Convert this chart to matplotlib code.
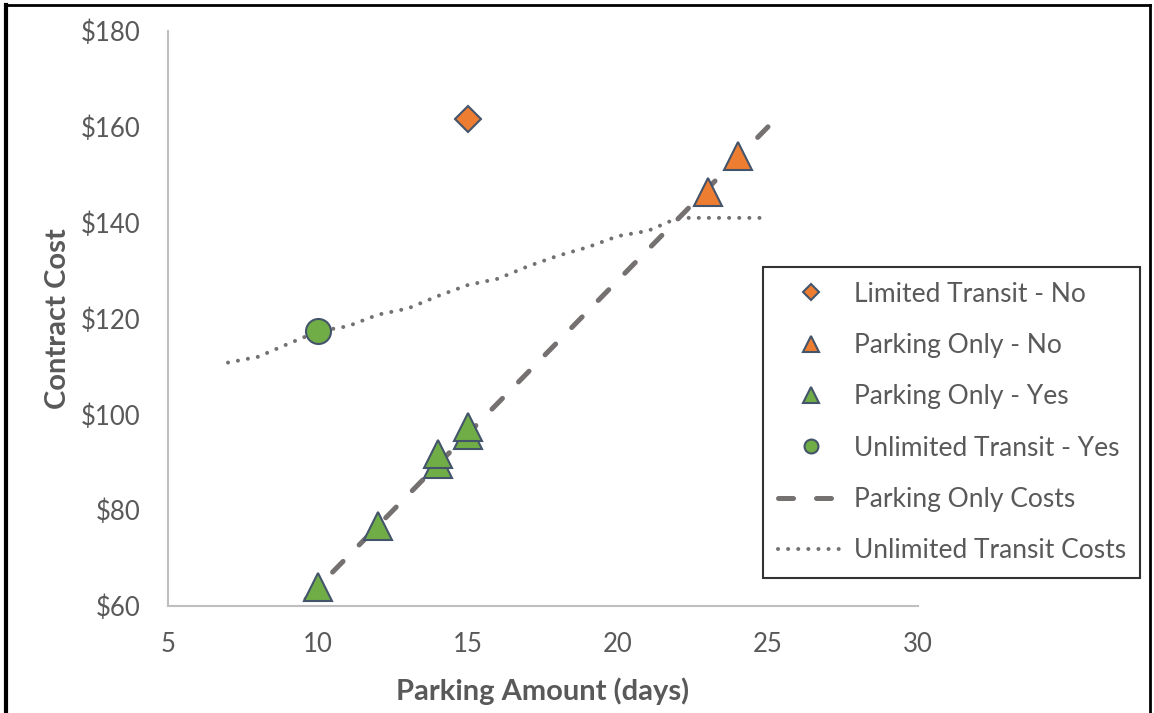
import matplotlib
matplotlib.use("Agg")
import matplotlib.pyplot as plt
from matplotlib.lines import Line2D

# ---- data ----
limited_no_days = [15]
limited_no_cost = [161.6]

parking_no_days = [23, 24]
parking_no_cost = [146.5, 154.0]

parking_yes_days = [10, 12, 14, 14, 15, 15]
parking_yes_cost = [64.0, 76.7, 89.6, 91.8, 95.6, 97.4]

unlimited_yes_days = [10]
unlimited_yes_cost = [117.3]

parking_cost_days = [9.6, 25.0]
parking_cost_values = [61.4, 160.0]

unlimited_cost_days = [7, 8, 9, 10, 11, 12, 13, 14, 15, 16, 17, 18, 19, 20, 21, 22, 23, 24, 25]
unlimited_cost_values = [110.8, 112.0, 114.7, 117.3, 118.4, 120.8, 122.1, 124.7, 127.0, 128.3,
                         130.9, 133.1, 134.9, 137.2, 138.3, 141.0, 141.0, 141.0, 141.0]

x_ticks = [5, 10, 15, 20, 25, 30]
y_ticks = [60, 80, 100, 120, 140, 160, 180]

# ---- style ----
FONT = "Lato"
plt.rcParams["font.family"] = [FONT, "DejaVu Sans"]
ORANGE = "#ED7D31"
GREEN = "#70AD47"
EDGE = "#44546A"
LINE_GRAY = "#767171"
TEXT_GRAY = "#595959"
AXIS_GRAY = "#BFBFBF"

DOT_STYLE = dict(color=LINE_GRAY, lw=2.9, linestyle=(0, (0.01, 2.5)), dash_capstyle="round")
DASH_STYLE = dict(color=LINE_GRAY, lw=3.6, linestyle=(0, (3.0, 4.6)), dash_capstyle="round")

W, H = 1154, 713
fig = plt.figure(figsize=(W / 100, H / 100), dpi=100)
ax = fig.add_axes([168 / W, 1 - 606 / H, (918 - 168) / W, (606 - 31) / H])

# trend lines
ax.plot(unlimited_cost_days, unlimited_cost_values, zorder=2, **DOT_STYLE)
ax.plot(parking_cost_days, parking_cost_values, zorder=2, **DASH_STYLE)

# observed contracts
mk = dict(linestyle="none", markeredgecolor=EDGE, markeredgewidth=1.5)
ax.plot(limited_no_days, limited_no_cost, marker="D", ms=13.7, color=ORANGE, zorder=3, **mk)
ax.plot(parking_no_days, parking_no_cost, marker="^", ms=19.5, color=ORANGE, zorder=3, **mk)
ax.plot(parking_yes_days, parking_yes_cost, marker="^", ms=19.5, color=GREEN, zorder=3, **mk)
ax.plot(unlimited_yes_days, unlimited_yes_cost, marker="o", ms=18, color=GREEN, zorder=3, **mk)

ax.set_xlim(5, 30)
ax.set_ylim(60, 180)
ax.set_xticks(x_ticks)
ax.set_yticks(y_ticks)
ax.set_yticklabels([f"${v}" for v in y_ticks])
ax.tick_params(length=0, labelsize=18.5, labelcolor=TEXT_GRAY)
ax.tick_params(axis="y", pad=20)
ax.tick_params(axis="x", pad=18.5)
for s in ("top", "right"):
    ax.spines[s].set_visible(False)
for s in ("left", "bottom"):
    ax.spines[s].set_color(AXIS_GRAY)
    ax.spines[s].set_linewidth(1.5)

ax.set_xlabel("Parking Amount (days)", fontsize=21, fontweight="bold", color=TEXT_GRAY, labelpad=15)
ax.set_ylabel("Contract Cost", fontsize=21, fontweight="bold", color=TEXT_GRAY, labelpad=7)

# legend
handles = [
    Line2D([], [], marker="D", ms=8, color=ORANGE, **mk),
    Line2D([], [], marker="^", ms=11, color=ORANGE, **mk),
    Line2D([], [], marker="^", ms=11, color=GREEN, **mk),
    Line2D([], [], marker="o", ms=10, color=GREEN, **mk),
    Line2D([], [], **DASH_STYLE),
    Line2D([], [], **DOT_STYLE),
]
labels = ["Limited Transit - No", "Parking Only - No", "Parking Only - Yes",
          "Unlimited Transit - Yes", "Parking Only Costs", "Unlimited Transit Costs"]
leg = fig.legend(handles, labels, loc="upper left",
                 bbox_to_anchor=(763 / W, 1 - 267 / H), frameon=True, fancybox=False,
                 fontsize=19, labelcolor=TEXT_GRAY, handlelength=2.5, handletextpad=0.38,
                 labelspacing=1.0, borderpad=0.55, borderaxespad=0)
leg.get_frame().set_edgecolor("black")
leg.get_frame().set_linewidth(1.5)

# outer border
for xs, ys, lw in [([6 / W, 6 / W], [0, 1 - 5 / H], 3),
                   ([6 / W, 1150 / W], [1 - 5 / H, 1 - 5 / H], 2),
                   ([1150 / W, 1150 / W], [0, 1 - 5 / H], 2)]:
    fig.add_artist(Line2D(xs, ys, color="black", lw=lw, transform=fig.transFigure))

fig.savefig("out.png", dpi=100)
